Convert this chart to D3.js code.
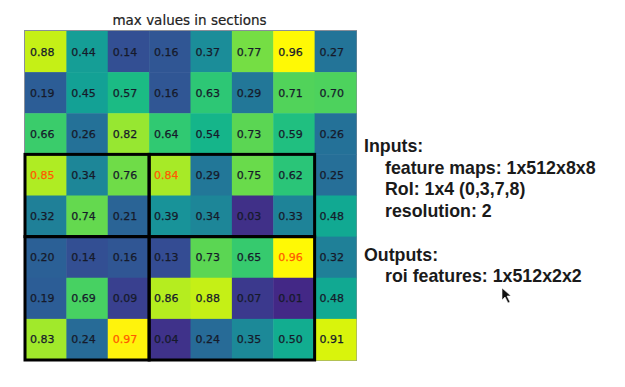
<!DOCTYPE html>
<html>
<head>
<meta charset="utf-8">
<script src="https://cdn.jsdelivr.net/npm/d3@7"></script>
<style>
  html, body { margin: 0; padding: 0; background: #fff; }
  svg { display: block; }
</style>
</head>
<body>
<svg id="chart" width="625" height="387"></svg>
<script>
// ---- data ----
const title = "max values in sections";
const rowIndex = [0, 1, 2, 3, 4, 5, 6, 7];
const colIndex = [0, 1, 2, 3, 4, 5, 6, 7];
const row0 = [0.88, 0.44, 0.14, 0.16, 0.37, 0.77, 0.96, 0.27];
const row1 = [0.19, 0.45, 0.57, 0.16, 0.63, 0.29, 0.71, 0.70];
const row2 = [0.66, 0.26, 0.82, 0.64, 0.54, 0.73, 0.59, 0.26];
const row3 = [0.85, 0.34, 0.76, 0.84, 0.29, 0.75, 0.62, 0.25];
const row4 = [0.32, 0.74, 0.21, 0.39, 0.34, 0.03, 0.33, 0.48];
const row5 = [0.20, 0.14, 0.16, 0.13, 0.73, 0.65, 0.96, 0.32];
const row6 = [0.19, 0.69, 0.09, 0.86, 0.88, 0.07, 0.01, 0.48];
const row7 = [0.83, 0.24, 0.97, 0.04, 0.24, 0.35, 0.50, 0.91];
const roi = [0, 3, 7, 8];          // x0, y0, x1, y1
const resolution = 2;
const infoLines = [
  { text: "Inputs:", indent: 0 },
  { text: "feature maps: 1x512x8x8", indent: 1 },
  { text: "RoI: 1x4 (0,3,7,8)", indent: 1 },
  { text: "resolution: 2", indent: 1 },
  { text: "", indent: 0 },
  { text: "Outputs:", indent: 0 },
  { text: "roi features: 1x512x2x2", indent: 1 }
];

const grid = [row0, row1, row2, row3, row4, row5, row6, row7];

// ---- layout ----
const svg = d3.select("#chart");
const gLeft = 25, gTop = 31, gw = 331, gh = 329;

const x = d3.scaleBand().domain(colIndex).range([gLeft, gLeft + gw]).padding(0);
const y = d3.scaleBand().domain(rowIndex).range([gTop, gTop + gh]).padding(0);
const xe = d3.scaleLinear().domain([0, 8]).range([gLeft, gLeft + gw]);
const ye = d3.scaleLinear().domain([0, 8]).range([gTop, gTop + gh]);
// viridis, slightly more saturated (the reference is a video capture)
const vivid = t => {
  const c = d3.hsl(d3.interpolateViridis(t));
  c.s = Math.min(1, c.s * 1.2);
  return c.formatRgb();
};
const color = d3.scaleSequential(vivid).domain([-0.15, 1.0]);

// sections
const x0 = roi[0], y0 = roi[1], x1 = roi[2], y1 = roi[3];
const sw = Math.floor((x1 - x0) / resolution), sh = Math.floor((y1 - y0) / resolution);
const xSplits = [x0, x0 + sw, x1];
const ySplits = [y0, y0 + sh, y1];
const sections = [];
for (let j = 0; j < resolution; j++)
  for (let i = 0; i < resolution; i++)
    sections.push({ c0: xSplits[i], c1: xSplits[i + 1], r0: ySplits[j], r1: ySplits[j + 1] });

const highlight = new Set();
sections.forEach(s => {
  let best = -Infinity, key = null;
  for (let r = s.r0; r < s.r1; r++)
    for (let c = s.c0; c < s.c1; c++)
      if (grid[r][c] > best) { best = grid[r][c]; key = r + "_" + c; }
  highlight.add(key);
});

const cells = [];
grid.forEach((row, r) => row.forEach((v, c) => cells.push({ r, c, v })));

// axes frame
svg.append("rect")
  .attr("x", gLeft - 0.5).attr("y", gTop - 0.5)
  .attr("width", gw + 1).attr("height", gh + 1)
  .attr("fill", "none").attr("stroke", "#8a8f99").attr("stroke-width", 1);

svg.append("g").selectAll("rect").data(cells).join("rect")
  .attr("x", d => x(d.c)).attr("y", d => y(d.r))
  .attr("width", x.bandwidth() + 0.5).attr("height", y.bandwidth() + 0.5)
  .attr("fill", d => color(d.v));

svg.append("g").selectAll("text").data(cells).join("text")
  .attr("x", d => x(d.c) + x.bandwidth() / 2 - 3.5)
  .attr("y", d => y(d.r) + y.bandwidth() / 2)
  .attr("dy", "0.36em")
  .attr("text-anchor", "middle")
  .attr("font-family", "DejaVu Sans, sans-serif")
  .attr("font-size", 11)
  .attr("fill", d => highlight.has(d.r + "_" + d.c) ? "#ff5a00" : "#161a2a")
  .attr("stroke", d => highlight.has(d.r + "_" + d.c) ? "#ff5a00" : "#161a2a")
  .attr("stroke-width", 0.25)
  .text(d => d.v.toFixed(2));

// section boxes
svg.append("g").selectAll("rect").data(sections).join("rect")
  .attr("x", d => xe(d.c0)).attr("y", d => ye(d.r0))
  .attr("width", d => xe(d.c1) - xe(d.c0)).attr("height", d => ye(d.r1) - ye(d.r0))
  .attr("fill", "none").attr("stroke", "#000").attr("stroke-width", 3);

// title
svg.append("text")
  .attr("x", gLeft + gw / 2 - 1).attr("y", 25)
  .attr("text-anchor", "middle")
  .attr("font-family", "DejaVu Sans, sans-serif")
  .attr("font-size", 13.5)
  .attr("fill", "#222")
  .attr("stroke", "#222").attr("stroke-width", 0.2)
  .text(title);

// info text
svg.append("g").selectAll("text").data(infoLines).join("text")
  .attr("x", d => 364 + d.indent * 21)
  .attr("y", (d, i) => 152 + i * 21.7)
  .attr("font-family", "Liberation Sans, Arial, sans-serif")
  .attr("font-weight", "bold")
  .attr("font-size", 17.8)
  .attr("fill", "#1a1a1a")
  .text(d => d.text);

// mouse cursor (screen artifact)
svg.append("path")
  .attr("d", "M502,288 L502,300 L505,297 L508,303 L510,302 L507,296 L511,296 Z")
  .attr("fill", "#111").attr("stroke", "#fff").attr("stroke-width", 0.6);
</script>
</body>
</html>
